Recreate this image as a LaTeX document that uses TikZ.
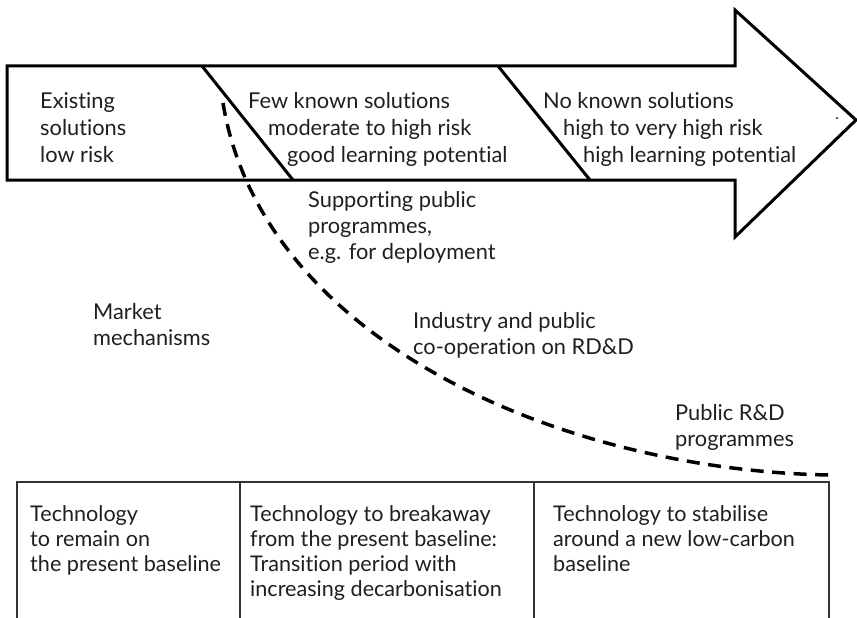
\documentclass[tikz,border=0pt]{standalone}
\usepackage{fontspec}
\setmainfont[Ligatures=NoCommon]{Lato}
\begin{document}
\begin{tikzpicture}[x=1pt,y=-1pt,
  lbl/.style={anchor=base west, inner sep=0pt, font=\fontsize{21.8}{26}\selectfont, text=black!88},
  tlbl/.style={anchor=base west, inner sep=0pt, font=\fontsize{21.6}{26}\selectfont, text=black!88},
  outline/.style={line width=3pt, line join=miter},
  tline/.style={line width=1.1pt, draw=black!80},
  curve/.style={line width=3.5pt, dash pattern=on 13pt off 8.5pt}]
\useasboundingbox (0,0) rectangle (857,618);
% big arrow
\draw[outline, fill=white] (7,66) -- (735,66) -- (735,10) -- (856,120) -- (735,237) -- (735,180) -- (7,180) -- cycle;
\coordinate (d1t) at (202,66); \coordinate (d1b) at (293,180);
\coordinate (d2t) at (498,66); \coordinate (d2b) at (590,180);
\draw[outline] (d1t) -- (d1b);
\draw[outline] (d2t) -- (d2b);
\fill[black!85] (837,118) circle (1.1pt);
% arrow texts
\node[lbl] (e1) at (40,108) {Existing};
\node[lbl] (e2) at (40,135) {solutions};
\node[lbl] (e3) at (40,162) {low risk};
\node[lbl] (f1) at (248,108) {Few known solutions};
\node[lbl] (f2) at (268,135) {moderate to high risk};
\node[lbl] (f3) at (287,162) {good learning potential};
\node[lbl] (n1) at (543,108) {No known solutions};
\node[lbl] (n2) at (563,135) {high to very high risk};
\node[lbl] (n3) at (583,162) {high learning potential};
% dashed curve
\coordinate (cs) at (223,103);
\coordinate (ce) at (829,475);
\draw[curve] (cs) .. controls (262,340) and (560,470) .. (ce);
% middle labels
\node[lbl] (s1) at (308,207) {Supporting public};
\node[lbl] (s2) at (308,233) {programmes,};
\node[lbl] (s3) at (308,259) {e.g. for deployment};
\node[lbl] (m1) at (93,319) {Market};
\node[lbl] (m2) at (93,345) {mechanisms};
\node[lbl] (i1) at (413,328) {Industry and public};
\node[lbl] (i2) at (413,354) {co-operation on RD\&D};
\node[lbl] (p1) at (675,420) {Public R\&D};
\node[lbl] (p2) at (675,446) {programmes};
% table
\coordinate (t0) at (17,482); \coordinate (t1) at (240,482);
\coordinate (t2) at (534,482); \coordinate (t3) at (829,482);
\draw[tline] (17,618) -- (t0) -- (t3) -- (829,618);
\draw[tline] (t1) -- (240,618);
\draw[tline] (t2) -- (534,618);
\node[tlbl] (a1) at (30,521) {Technology};
\node[tlbl] (a2) at (30,546) {to remain on};
\node[tlbl] (a3) at (30,571) {the present baseline};
\node[tlbl] (b1) at (250,521) {Technology to breakaway};
\node[tlbl] (b2) at (250,546) {from the present baseline:};
\node[tlbl] (b3) at (250,571) {Transition period with};
\node[tlbl] (b4) at (250,596) {increasing decarbonisation};
\node[tlbl] (c1) at (553,521) {Technology to stabilise};
\node[tlbl] (c2) at (553,546) {around a new low-carbon};
\node[tlbl] (c3) at (553,571) {baseline};
\end{tikzpicture}
\end{document}
